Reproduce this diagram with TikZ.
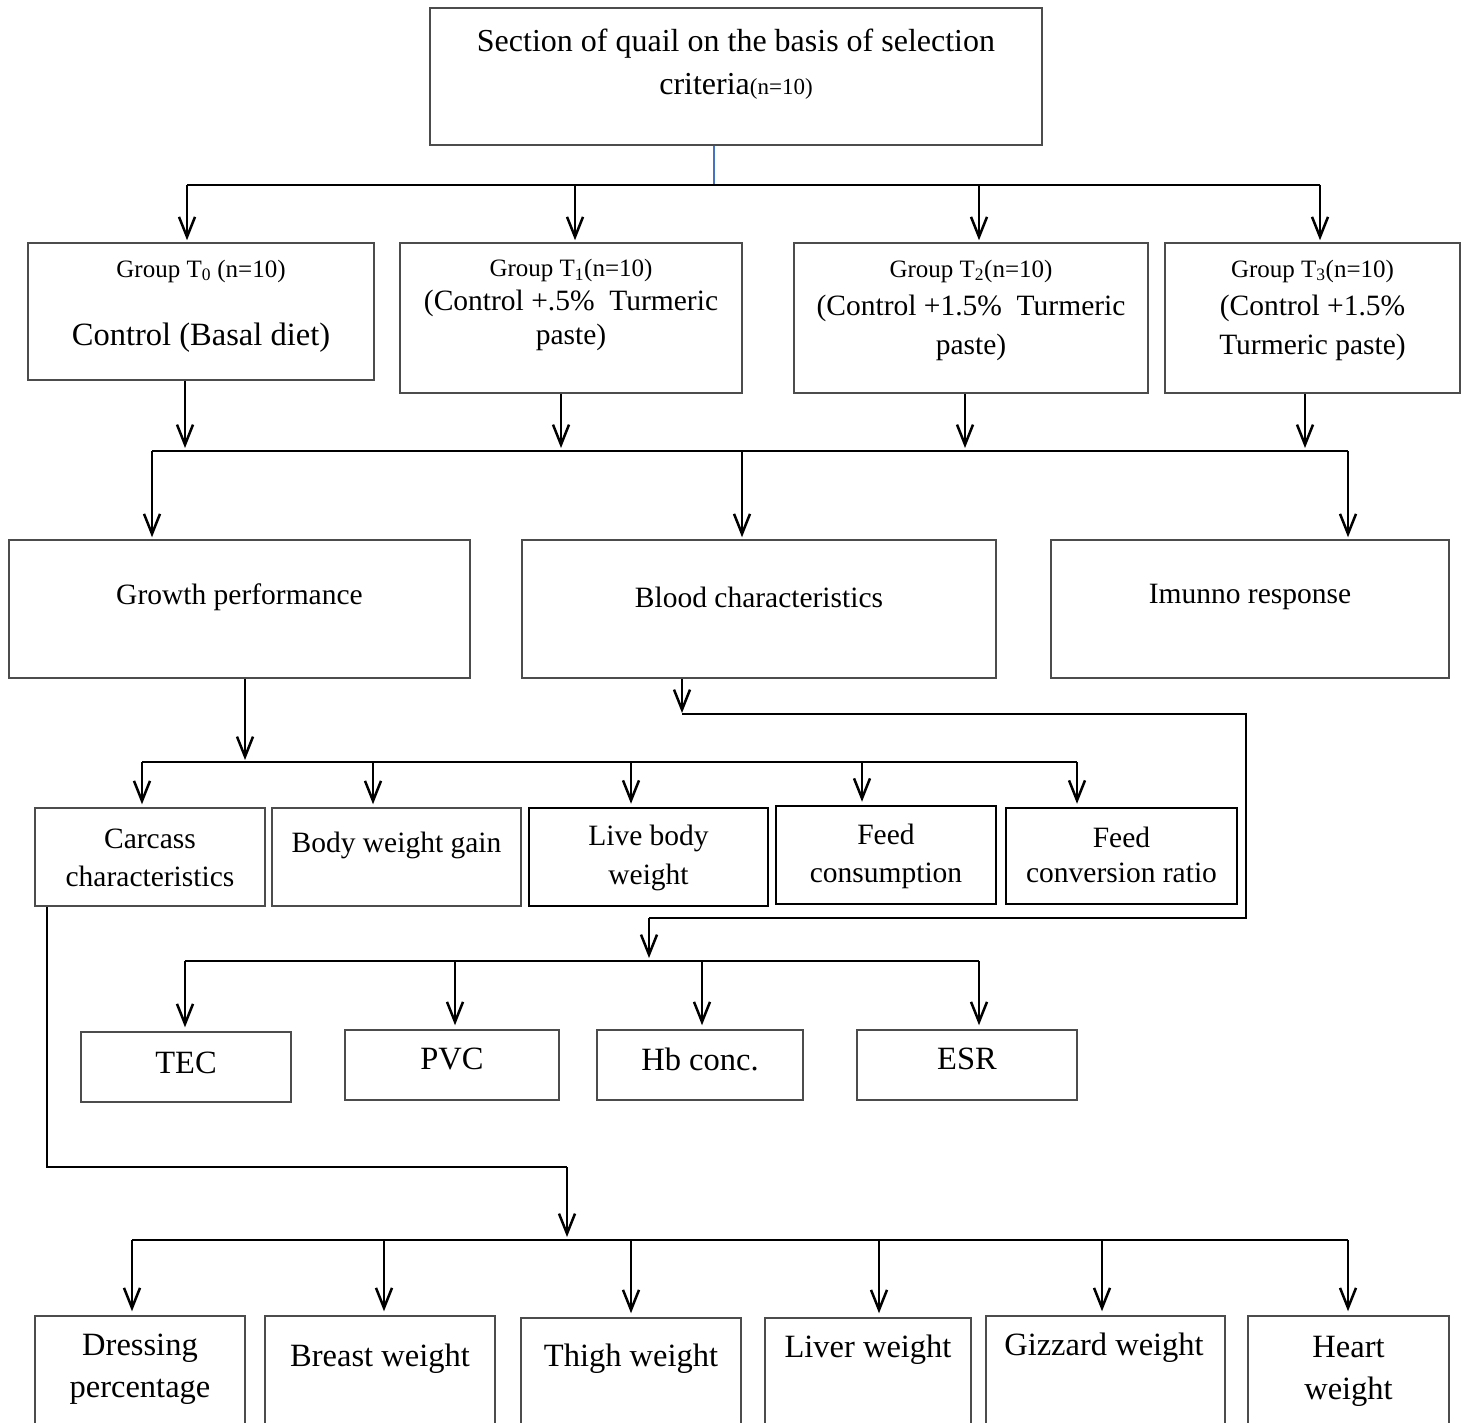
\documentclass[tikz,border=0pt]{standalone}
\usepackage{fontspec}
\setmainfont{Liberation Serif}
\usetikzlibrary{arrows.meta}
\begin{document}
\begin{tikzpicture}[x=1pt,y=-1pt,>={Straight Barb[length=20pt,width=16pt]},
  box/.style={draw=black!70,line width=1.5pt,inner sep=0pt},
  boldbox/.style={draw,line width=2.5pt,inner sep=0pt},
  wire/.style={line width=2.5pt},
  txt/.style={align=center,inner sep=0pt,font=\fontsize{29.5}{36}\selectfont},
  big/.style={align=center,inner sep=0pt,font=\fontsize{32.5}{42}\selectfont},
  small/.style={font=\fontsize{25}{28}\selectfont}]
\useasboundingbox (0,0) rectangle (1467,1423);
\clip (0,0) rectangle (1467,1423);

% boxes
\node[box,minimum width=612,minimum height=137] (sel) at (736,76.5) {};
\node[box,minimum width=346,minimum height=137] (gT0) at (201,311.5) {};
\node[box,minimum width=342,minimum height=150] (gT1) at (571,318) {};
\node[box,minimum width=354,minimum height=150] (gT2) at (971,318) {};
\node[box,minimum width=295,minimum height=150] (gT3) at (1312.5,318) {};
\node[box,minimum width=461,minimum height=138] (growth) at (239.5,609) {};
\node[box,minimum width=474,minimum height=138] (blood) at (759,609) {};
\node[box,minimum width=398,minimum height=138] (immune) at (1250,609) {};
\node[box,minimum width=230,minimum height=98] (carcass) at (150,857) {};
\node[box,minimum width=249,minimum height=98] (bwg) at (396.5,857) {};
\node[boldbox,minimum width=239,minimum height=98] (lbw) at (648.5,857) {};
\node[boldbox,minimum width=220,minimum height=98] (fc) at (886,855) {};
\node[boldbox,minimum width=231,minimum height=96] (fcr) at (1121.5,856) {};
\node[box,minimum width=210,minimum height=70] (tec) at (186,1067) {};
\node[box,minimum width=214,minimum height=70] (pvc) at (452,1065) {};
\node[box,minimum width=206,minimum height=70] (hb) at (700,1065) {};
\node[box,minimum width=220,minimum height=70] (esr) at (967,1065) {};
\node[box,minimum width=210,minimum height=124] (dress) at (140,1378) {};
\node[box,minimum width=230,minimum height=124] (breast) at (380,1378) {};
\node[box,minimum width=220,minimum height=124] (thigh) at (631,1380) {};
\node[box,minimum width=206,minimum height=124] (liver) at (868,1380) {};
\node[box,minimum width=239,minimum height=124] (gizzard) at (1105.5,1378) {};
\node[box,minimum width=201,minimum height=124] (heart) at (1348.5,1378) {};

% texts
\node[big,font=\fontsize{32}{43}\selectfont] (selT) at (736,64) {Section of quail on the basis of selection\\criteria{\fontsize{23}{26}\selectfont(n=10)}};
\node[txt,small] (gT0a) at (201,271) {Group T\textsubscript{0} (n=10)};
\node[big] (gT0b) at (201,338) {Control (Basal diet)};
\node[txt,font=\fontsize{29.5}{34}\selectfont] (gT1T) at (571,305) {{\fontsize{25}{28}\selectfont Group T\textsubscript{1}(n=10)}\\(Control +.5\%\ \ Turmeric\\paste)};
\node[txt,font=\fontsize{29.5}{38.5}\selectfont] (gT2T) at (971,310) {{\fontsize{25}{28}\selectfont Group T\textsubscript{2}(n=10)}\\(Control +1.5\%\ \ Turmeric\\paste)};
\node[txt,font=\fontsize{29.5}{38.5}\selectfont] (gT3T) at (1312.5,310) {{\fontsize{25}{28}\selectfont Group T\textsubscript{3}(n=10)}\\(Control +1.5\%\\Turmeric paste)};
\node[txt] (growthT) at (239.5,597) {Growth performance};
\node[txt] (bloodT) at (759,597) {Blood characteristics};
\node[txt] (immuneT) at (1250,597) {Imunno response};
\node[txt,font=\fontsize{29.5}{38}\selectfont] (carcassT) at (150,858) {Carcass\\characteristics};
\node[txt] (bwgT) at (396.5,845) {Body weight gain};
\node[txt,font=\fontsize{29.5}{39}\selectfont] (lbwT) at (648.5,858) {Live body\\weight};
\node[txt,font=\fontsize{29.5}{38}\selectfont] (fcT) at (886,856) {Feed\\consumption};
\node[txt,font=\fontsize{29.5}{35}\selectfont] (fcrT) at (1121.5,855) {Feed\\conversion ratio};
\node[big] (tecT) at (186,1063) {TEC};
\node[big] (pvcT) at (452,1059) {PVC};
\node[big] (hbT) at (700,1059) {Hb conc.};
\node[big] (esrT) at (967,1059) {ESR};
\node[big] (dressT) at (140,1369) {Dressing\\percentage};
\node[big] (breastT) at (380,1359) {Breast weight};
\node[big] (thighT) at (631,1359) {Thigh weight};
\node[big] (liverT) at (868,1350) {Liver weight};
\node[big] (gizzardT) at (1104,1348) {Gizzard weight};
\node[big] (heartT) at (1348.5,1371) {Heart\\weight};

% first split
\coordinate (a0) at (714,185);
\coordinate (a1) at (187,185);
\coordinate (a2) at (575,185);
\coordinate (a3) at (979,185);
\coordinate (a4) at (1320,185);
\draw[line width=1.2pt,color={rgb,255:red,68;green,114;blue,196}] (a0 |- sel.south) -- (a0);
\draw[wire] (a1) -- (a4);
\draw[wire,->,shorten >=2pt] (a1) -- (a1 |- gT0.north);
\draw[wire,->,shorten >=2pt] (a2) -- (a2 |- gT1.north);
\draw[wire,->,shorten >=2pt] (a3) -- (a3 |- gT2.north);
\draw[wire,->,shorten >=2pt] (a4) -- (a4 |- gT3.north);

% groups to traits
\coordinate (b1) at (185,451);
\coordinate (b2) at (561,451);
\coordinate (b3) at (965,451);
\coordinate (b4) at (1305,451);
\coordinate (bl) at (152,451);
\coordinate (bm) at (742,451);
\coordinate (br) at (1348,451);
\draw[wire,->,shorten >=3pt] (b1 |- gT0.south) -- (b1);
\draw[wire,->,shorten >=3pt] (b2 |- gT1.south) -- (b2);
\draw[wire,->,shorten >=3pt] (b3 |- gT2.south) -- (b3);
\draw[wire,->,shorten >=3pt] (b4 |- gT3.south) -- (b4);
\draw[wire] (bl) -- (br);
\draw[wire,->,shorten >=2pt] (bl) -- (bl |- growth.north);
\draw[wire,->,shorten >=2pt] (bm) -- (bm |- blood.north);
\draw[wire,->,shorten >=2pt] (br) -- (br |- immune.north);

% growth performance
\coordinate (c0) at (245,762);
\coordinate (c1) at (142,762);
\coordinate (c2) at (373,762);
\coordinate (c3) at (631,762);
\coordinate (c4) at (862,762);
\coordinate (c5) at (1077,762);
\draw[wire,->,shorten >=2pt] (c0 |- growth.south) -- (c0);
\draw[wire] (c1) -- (c5);
\draw[wire,->,shorten >=3pt] (c1) -- (c1 |- carcass.north);
\draw[wire,->,shorten >=3pt] (c2) -- (c2 |- bwg.north);
\draw[wire,->,shorten >=3pt] (c3) -- (c3 |- lbw.north);
\draw[wire,->,shorten >=3pt] (c4) -- (c4 |- fc.north);
\draw[wire,->,shorten >=3pt] (c5) -- (c5 |- fcr.north);

% blood characteristics
\coordinate (d0) at (682,714);
\coordinate (d1) at (1246,714);
\coordinate (d2) at (1246,918);
\coordinate (d3) at (649,918);
\coordinate (d4) at (649,961);
\draw[wire,->,shorten >=1pt] (d0 |- blood.south) -- (d0);
\draw[wire] (d0) -- (d1) -- (d2) -- (d3);
\draw[wire,->,shorten >=3pt] (d3) -- (d4);
\coordinate (e1) at (185,961);
\coordinate (e2) at (455,961);
\coordinate (e3) at (702,961);
\coordinate (e4) at (979,961);
\draw[wire] (e1) -- (e4);
\draw[wire,->,shorten >=4pt] (e1) -- (e1 |- tec.north);
\draw[wire,->,shorten >=4pt] (e2) -- (e2 |- pvc.north);
\draw[wire,->,shorten >=4pt] (e3) -- (e3 |- hb.north);
\draw[wire,->,shorten >=4pt] (e4) -- (e4 |- esr.north);

% carcass characteristics
\coordinate (f0) at (47,1167);
\coordinate (f1) at (567,1167);
\coordinate (f2) at (567,1240);
\draw[wire] (f0 |- carcass.south) -- (f0) -- (f1);
\draw[wire,->,shorten >=3pt] (f1) -- (f2);
\coordinate (g1) at (132,1240);
\coordinate (g2) at (384,1240);
\coordinate (g3) at (631,1240);
\coordinate (g4) at (879,1240);
\coordinate (g5) at (1102,1240);
\coordinate (g6) at (1348,1240);
\draw[wire] (g1) -- (g6);
\draw[wire,->,shorten >=4pt] (g1) -- (g1 |- dress.north);
\draw[wire,->,shorten >=4pt] (g2) -- (g2 |- breast.north);
\draw[wire,->,shorten >=4pt] (g3) -- (g3 |- thigh.north);
\draw[wire,->,shorten >=4pt] (g4) -- (g4 |- liver.north);
\draw[wire,->,shorten >=4pt] (g5) -- (g5 |- gizzard.north);
\draw[wire,->,shorten >=4pt] (g6) -- (g6 |- heart.north);

\end{tikzpicture}
\end{document}
